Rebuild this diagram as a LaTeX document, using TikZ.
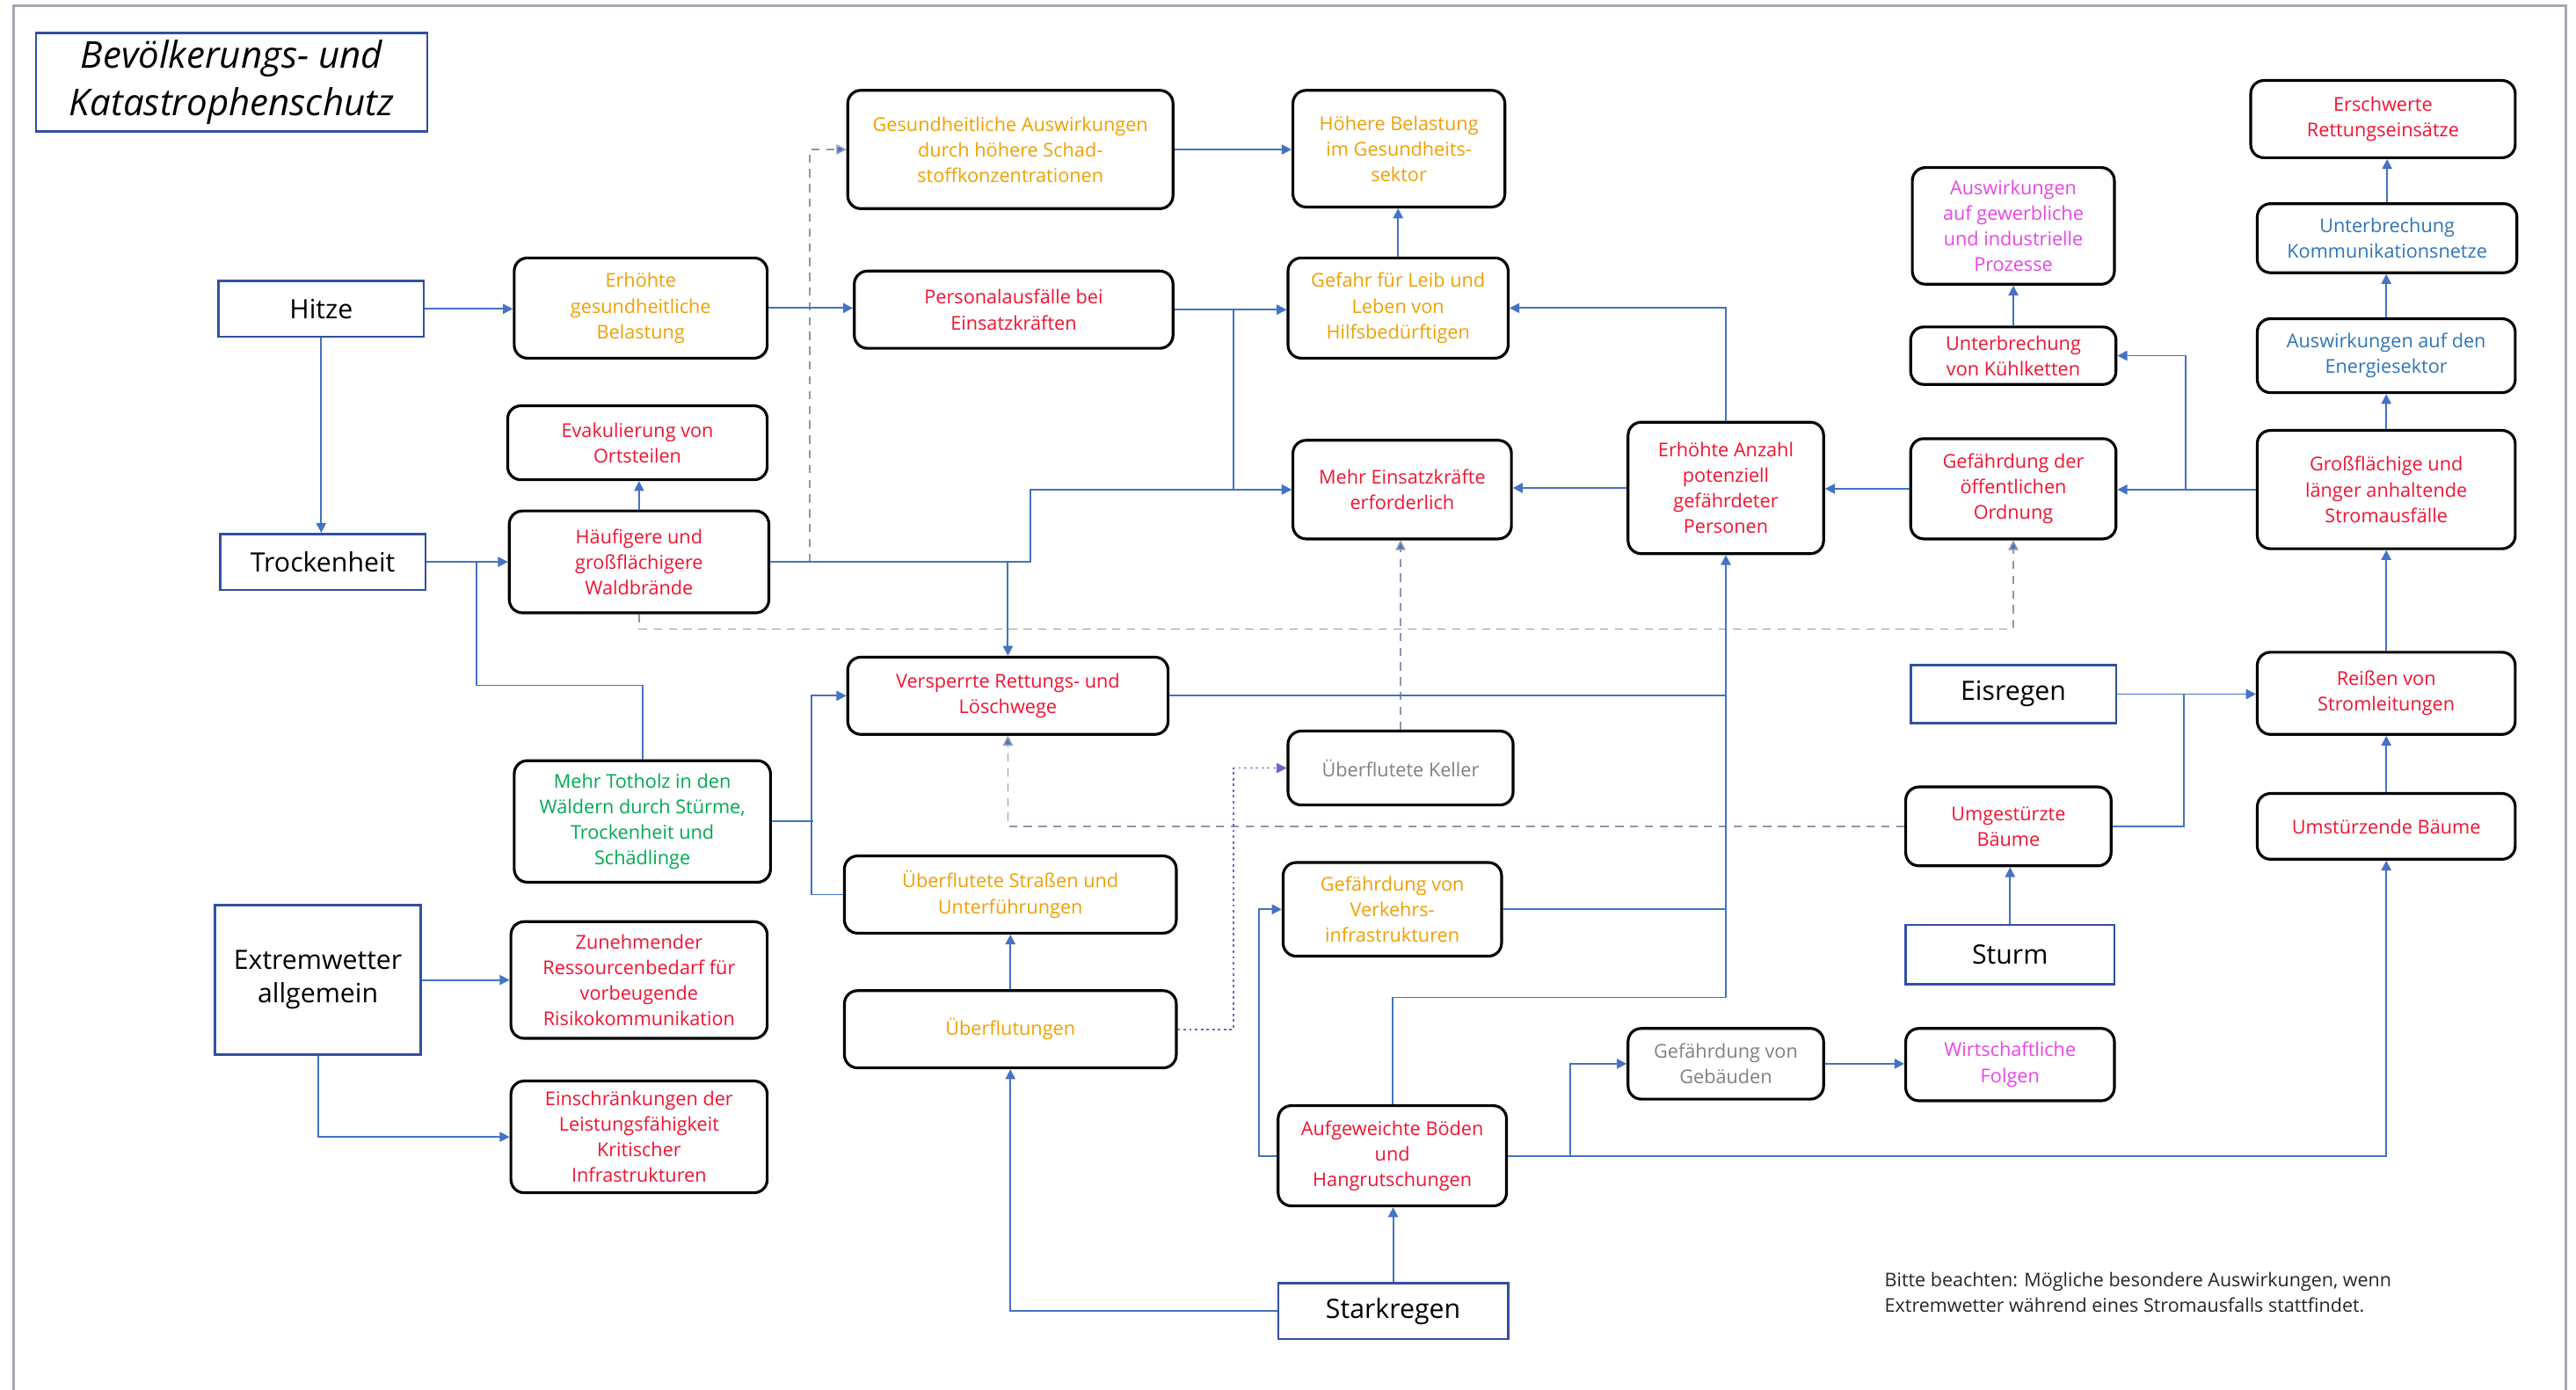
\documentclass[tikz,border=0pt]{standalone}
\usepackage{fontspec}
\setmainfont{Open Sans}
\usetikzlibrary{arrows.meta,calc}
\definecolor{cblue}{RGB}{68,114,196}
\definecolor{hazblue}{RGB}{50,80,160}
\definecolor{orng}{RGB}{240,160,0}
\definecolor{rd}{RGB}{240,20,50}
\definecolor{grn}{RGB}{0,170,80}
\definecolor{mgt}{RGB}{230,70,230}
\definecolor{tblue}{RGB}{46,117,182}
\definecolor{gtxt}{RGB}{128,128,128}
\definecolor{dgray}{RGB}{140,150,175}
\definecolor{dpurp}{RGB}{110,100,210}
\definecolor{framegray}{RGB}{165,168,180}
\tikzset{
  box/.style={draw=black, line width=1.7pt, rounded corners=8pt, fill=white, align=center, inner sep=2pt, font=\fontsize{11.6}{15.6}\selectfont},
  haz/.style={draw=hazblue, line width=1.4pt, fill=white, align=center, inner sep=2pt, font=\fontsize{16.2}{20.5}\selectfont},
  cline/.style={draw=cblue, line width=1pt},
  conn/.style={cline, -{Triangle[length=6pt,width=6pt]}},
  dashconn/.style={draw=dgray, line width=0.9pt, dash pattern=on 5pt off 4pt, -{Triangle[length=6pt,width=6pt,fill=cblue]}},
  dotconn/.style={draw=dpurp, line width=0.9pt, dash pattern=on 1.5pt off 2pt, -{Triangle[length=6pt,width=6pt,fill=dpurp]}},
}
\begin{document}
\begin{tikzpicture}[x=1pt,y=-1pt]
\fill[white] (0,0) rectangle (1568,846);
\useasboundingbox (0,0) rectangle (1568,846);
\draw[framegray, line width=1.5pt] (8.5,846) -- (8.5,3.5) -- (1562,3.5) -- (1562,846);

% title
\node[haz, minimum width=238pt, minimum height=60pt, font=\fontsize{22.5}{28.5}\selectfont\itshape] (title) at (141,50) {Bevölkerungs- und\\Katastrophenschutz};

% hazards
\node[haz, minimum width=125pt, minimum height=34pt] (hitze) at (195.5,188) {Hitze};
\node[haz, minimum width=125pt, minimum height=34pt] (trock) at (196.5,342) {Trockenheit};
\node[haz, minimum width=125pt, minimum height=91pt] (extrem) at (193.5,596.5) {Extremwetter\\allgemein};
\node[haz, minimum width=125pt, minimum height=35pt] (eisr) at (1225.5,422.5) {Eisregen};
\node[haz, minimum width=127pt, minimum height=36pt] (sturm) at (1223.5,581) {Sturm};
\node[haz, minimum width=140pt, minimum height=34pt] (stark) at (848,798) {Starkregen};

% effects
\node[box, text=orng, minimum width=154pt, minimum height=61pt] (erh) at (390,187.5) {Erhöhte\\gesundheitliche\\Belastung};
\node[box, text=rd, minimum width=158pt, minimum height=45pt] (evak) at (388,269.5) {Evakulierung von\\Ortsteilen};
\node[box, text=rd, minimum width=158pt, minimum height=62pt] (wald) at (389,342) {Häufigere und\\großflächigere\\Waldbrände};
\node[box, text=grn, minimum width=156pt, minimum height=74pt] (totholz) at (391,500) {Mehr Totholz in den\\Wäldern durch Stürme,\\Trockenheit und\\Schädlinge};
\node[box, text=rd, minimum width=156pt, minimum height=71pt] (ress) at (389,596.5) {Zunehmender\\Ressourcenbedarf für\\vorbeugende\\Risikokommunikation};
\node[box, text=rd, minimum width=156pt, minimum height=68pt] (einschr) at (389,692) {Einschränkungen der\\Leistungsfähigkeit\\Kritischer\\Infrastrukturen};
\node[box, text=orng, minimum width=198pt, minimum height=72pt] (gesaus) at (615,91) {Gesundheitliche Auswirkungen\\durch höhere Schad-\\stoffkonzentrationen};
\node[box, text=rd, minimum width=194pt, minimum height=47pt] (personal) at (617,188.5) {Personalausfälle bei\\Einsatzkräften};
\node[box, text=rd, minimum width=195pt, minimum height=47pt] (versp) at (613.5,423.5) {Versperrte Rettungs- und\\Löschwege};
\node[box, text=orng, minimum width=202pt, minimum height=47pt] (strassen) at (615,544.5) {Überflutete Straßen und\\Unterführungen};
\node[box, text=orng, minimum width=202pt, minimum height=47pt] (ueberfl) at (615,626.5) {Überflutungen};
\node[box, text=orng, minimum width=129pt, minimum height=71pt] (hoehere) at (851.5,90.5) {Höhere Belastung\\im Gesundheits-\\sektor};
\node[box, text=orng, minimum width=134pt, minimum height=61pt] (gefahr) at (851,187.5) {Gefahr für Leib und\\Leben von\\Hilfsbedürftigen};
\node[box, text=rd, minimum width=133pt, minimum height=60pt] (mehrein) at (853.5,298) {Mehr Einsatzkräfte\\erforderlich};
\node[box, text=gtxt, minimum width=137pt, minimum height=45pt] (keller) at (852.5,467.5) {Überflutete Keller};
\node[box, text=orng, minimum width=133pt, minimum height=57pt] (verkehr) at (847.5,553.5) {Gefährdung von\\Verkehrs-\\infrastrukturen};
\node[box, text=rd, minimum width=139pt, minimum height=61pt] (aufgew) at (847.5,703.5) {Aufgeweichte Böden\\und\\Hangrutschungen};
\node[box, text=rd, minimum width=119pt, minimum height=80pt] (erhanz) at (1050.5,297) {Erhöhte Anzahl\\potenziell\\gefährdeter\\Personen};
\node[box, text=gtxt, minimum width=119pt, minimum height=43pt] (gebaeude) at (1050.5,647.5) {Gefährdung von\\Gebäuden};
\node[box, text=mgt, minimum width=123pt, minimum height=71pt] (gewerb) at (1225.5,137.5) {Auswirkungen\\auf gewerbliche\\und industrielle\\Prozesse};
\node[box, text=rd, minimum width=125pt, minimum height=35pt] (kuehl) at (1225.5,216.5) {Unterbrechung\\von Kühlketten};
\node[box, text=rd, minimum width=125pt, minimum height=61pt] (oeffent) at (1225.5,297.5) {Gefährdung der\\öffentlichen\\Ordnung};
\node[box, text=rd, minimum width=125pt, minimum height=48pt] (umgest) at (1222.5,503) {Umgestürzte\\Bäume};
\node[box, text=mgt, minimum width=127pt, minimum height=44pt] (wirtsch) at (1223.5,648) {Wirtschaftliche\\Folgen};
\node[box, text=rd, minimum width=161pt, minimum height=47pt] (erschw) at (1450.5,72.5) {Erschwerte\\Rettungseinsätze};
\node[box, text=tblue, minimum width=158pt, minimum height=42pt] (kommun) at (1453,145) {Unterbrechung\\Kommunikationsnetze};
\node[box, text=tblue, minimum width=157pt, minimum height=45pt] (energie) at (1452.5,216.5) {Auswirkungen auf den\\Energiesektor};
\node[box, text=rd, minimum width=157pt, minimum height=72pt] (strom) at (1452.5,298) {Großflächige und\\länger anhaltende\\Stromausfälle};
\node[box, text=rd, minimum width=157pt, minimum height=50pt] (reissen) at (1452.5,422) {Reißen von\\Stromleitungen};
\node[box, text=rd, minimum width=157pt, minimum height=40pt] (umstuerz) at (1452.5,503) {Umstürzende Bäume};

\node[anchor=north west, align=left, inner sep=0pt, font=\fontsize{11.5}{16}\selectfont, text=black!85] (note) at (1147,774) {Bitte beachten: Mögliche besondere Auswirkungen, wenn\\Extremwetter während eines Stromausfalls stattfindet.};

% junction coordinates
\coordinate (dA) at (493,342);
\coordinate (jW) at (627,342);
\coordinate (jT) at (290,342);
\coordinate (jS) at (495,0);

% dashed / dotted (drawn first)
\draw[dashconn] (dA) |- (gesaus.west);
\draw[dashconn] (wald.south) -- ++(0,9) -| (oeffent.south);
\draw[dashconn] (umgest.west) -| (versp.south);
\draw[dashconn] (keller.north) -- (keller.north |- mehrein.south);
\draw[dotconn] (ueberfl.east) -- ++(34,0) |- (keller.west);

% solid connectors
\draw[conn] (hitze.east) -- (hitze.east -| erh.west);
\draw[conn] (hitze.south) -- (hitze.south |- trock.north);
\draw[conn] (erh.east) -- (erh.east -| personal.west);
\draw[conn] (wald.east) -- (jW) |- (mehrein.west);
\draw[conn] (versp.north |- wald.east) -- (versp.north);
\draw[conn] (gesaus.east) -- (gesaus.east -| hoehere.west);
\draw[conn] (gefahr.north) -- (gefahr.north |- hoehere.south);
\draw[conn] (personal.east) -- (personal.east -| gefahr.west);
\draw[conn] (personal.east) -- ++(36,0) |- (mehrein.west);
\draw[conn] (erhanz.north) |- (gefahr.east);
\draw[conn] (erhanz.west) -- (erhanz.west -| mehrein.east);
\draw[conn] (oeffent.west) -- (oeffent.west -| erhanz.east);
\draw[conn] (strom.west) -- (strom.west -| oeffent.east);
\draw[conn] (strom.west) -- ++(-43,0) |- (kuehl.east);
\draw[conn] (kuehl.north) -- (kuehl.north |- gewerb.south);
\draw[conn] (strom.north) -- (strom.north |- energie.south);
\draw[conn] (energie.north) -- (energie.north |- kommun.south);
\draw[conn] (kommun.north) -- (kommun.north |- erschw.south);
\draw[conn] (reissen.north) -- (reissen.north |- strom.south);
\draw[conn] (umstuerz.north) -- (umstuerz.north |- reissen.south);
\draw[conn] (eisr.east) -- (eisr.east -| reissen.west);
\draw[cline] (umgest.east) -| ($(eisr.east)!0.48!(reissen.west)$);
\draw[conn] (sturm.north) -- (sturm.north |- umgest.south);
\draw[conn] (trock.east) -- (trock.east -| wald.west);
\draw[cline] (totholz.north) -- ++(0,-45) -| (jT);
\draw[conn] (wald.north) -- (wald.north |- evak.south);
\draw[conn] (strassen.west) -- ++(-19,0) |- (versp.west);
\draw[cline] (totholz.east) -- (totholz.east -| jS);
\draw[conn] (ueberfl.north) -- (ueberfl.north |- strassen.south);
\draw[conn] (stark.west) -| (ueberfl.south);
\draw[conn] (stark.north) -- (stark.north |- aufgew.south);
\draw[cline] (versp.east) -- (versp.east -| erhanz.south);
\draw[conn] (aufgew.north) -- ++(0,-65) -| (erhanz.south);
\draw[cline] (verkehr.east) -- (verkehr.east -| erhanz.south);
\draw[conn] (aufgew.west) -- ++(-11,0) |- (verkehr.west);
\draw[conn] (aufgew.east) -- ++(38,0) |- (gebaeude.west);
\draw[conn] (aufgew.east) -| (umstuerz.south);
\draw[conn] (gebaeude.east) -- (gebaeude.east -| wirtsch.west);
\draw[conn] (extrem.east) -- (extrem.east -| ress.west);
\draw[conn] (extrem.south) |- (einschr.west);
\end{tikzpicture}
\end{document}
